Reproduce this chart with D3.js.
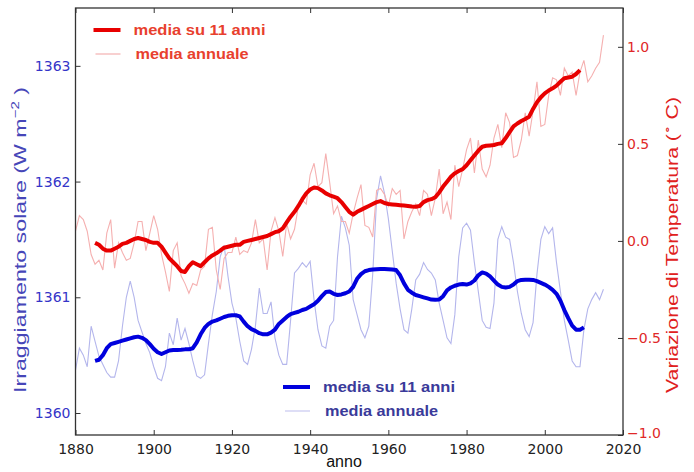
<!DOCTYPE html>
<html><head><meta charset="utf-8">
<script src="https://cdn.jsdelivr.net/npm/d3@7"></script>
<style>
html,body{margin:0;padding:0;background:#fff;}
svg{display:block;}
</style></head>
<body>
<svg id="c" width="694" height="472"></svg>
<script>
// ---- data ----
const tempYearStart = 1880;
const tempAnnual = [
0.05,0.13,0.11,0.05,-0.07,-0.12,-0.10,-0.15,0.04,0.11,
-0.14,-0.01,-0.06,-0.10,-0.09,-0.01,0.10,0.10,-0.05,0.04,
0.13,0.06,-0.07,-0.16,-0.26,-0.05,-0.01,-0.18,-0.22,-0.27,
-0.22,-0.23,-0.15,-0.13,0.06,0.07,-0.15,-0.25,-0.09,-0.06,
-0.06,0.02,-0.07,-0.05,-0.06,-0.01,0.11,-0.01,0.01,-0.15,
0.05,0.12,0.05,-0.08,0.09,0.01,0.06,0.18,0.21,0.19,
0.34,0.40,0.28,0.30,0.45,0.30,0.14,0.18,0.10,0.10,
0.04,0.14,0.22,0.29,0.08,0.07,0.02,0.26,0.27,0.24,
0.18,0.27,0.24,0.26,0.01,0.10,0.15,0.19,0.13,0.26,
0.24,0.13,0.22,0.37,0.14,0.20,0.11,0.39,0.28,0.37,
0.47,0.53,0.35,0.52,0.37,0.33,0.39,0.53,0.60,0.48,
0.66,0.61,0.43,0.44,0.52,0.66,0.54,0.67,0.82,0.59,
0.60,0.75,0.84,0.83,0.75,0.89,0.85,0.87,0.75,0.87,
0.93,0.82,0.85,0.89,0.92,1.06];

const meanYearStart = 1885;
const temp11 = [
-0.01,-0.02,-0.04,-0.05,-0.05,-0.04,-0.03,-0.015,-0.01,0.00,
0.01,0.015,0.01,0.005,-0.005,-0.01,-0.01,-0.03,-0.06,-0.09,
-0.11,-0.13,-0.155,-0.16,-0.13,-0.11,-0.12,-0.13,-0.11,-0.09,
-0.075,-0.064,-0.05,-0.035,-0.03,-0.025,-0.02,-0.02,-0.005,0.00,
0.005,0.01,0.015,0.02,0.025,0.035,0.045,0.05,0.065,0.095,
0.125,0.15,0.18,0.215,0.245,0.265,0.275,0.272,0.26,0.245,
0.235,0.228,0.22,0.20,0.175,0.15,0.135,0.15,0.16,0.17,
0.18,0.19,0.20,0.205,0.195,0.19,0.188,0.186,0.184,0.182,
0.18,0.177,0.176,0.18,0.20,0.21,0.215,0.225,0.25,0.28,
0.305,0.33,0.348,0.36,0.37,0.39,0.415,0.44,0.465,0.485,
0.49,0.492,0.494,0.50,0.503,0.53,0.56,0.59,0.605,0.618,
0.628,0.64,0.68,0.715,0.74,0.76,0.775,0.786,0.80,0.82,
0.838,0.842,0.846,0.86,0.88];

const tsiYearStart = 1880;
const tsiAnnual = [
1360.37,1360.56,1360.50,1360.40,1360.75,1360.62,1360.49,1360.42,1360.35,1360.31,
1360.31,1360.45,1360.75,1361.00,1361.14,1361.00,1360.80,1360.70,1360.60,1360.52,
1360.40,1360.30,1360.28,1360.40,1360.69,1360.59,1360.82,1360.63,1360.73,1360.60,
1360.45,1360.32,1360.30,1360.33,1360.60,1360.85,1361.05,1361.35,1361.45,1361.18,
1360.95,1360.82,1360.62,1360.45,1360.42,1360.55,1360.75,1361.08,1360.86,1360.86,
1360.96,1360.65,1360.50,1360.42,1360.42,1360.80,1361.21,1361.25,1361.30,1361.26,
1361.31,1360.98,1360.72,1360.58,1360.56,1360.75,1360.80,1361.35,1361.70,1361.60,
1361.45,1360.98,1360.85,1360.72,1360.65,1360.75,1361.20,1361.85,1362.05,1361.90,
1361.68,1361.40,1361.12,1360.90,1360.72,1360.69,1360.90,1361.15,1361.20,1361.30,
1361.24,1361.21,1361.15,1360.95,1360.80,1360.65,1360.60,1360.85,1361.35,1361.60,
1361.64,1361.58,1361.30,1361.05,1360.80,1360.74,1360.73,1360.95,1361.50,1361.61,
1361.52,1361.50,1361.30,1361.05,1360.86,1360.72,1360.66,1360.78,1361.20,1361.50,
1361.61,1361.55,1361.60,1361.30,1361.05,1360.80,1360.63,1360.45,1360.40,1360.40,
1360.72,1360.90,1360.98,1361.04,1360.98,1361.07];

const tsi11 = [
1360.45,1360.46,1360.50,1360.56,1360.595,1360.605,1360.615,1360.625,1360.635,1360.645,
1360.655,1360.66,1360.65,1360.63,1360.595,1360.555,1360.525,1360.51,1360.525,1360.54,
1360.545,1360.545,1360.547,1360.55,1360.55,1360.56,1360.61,1360.68,1360.735,1360.77,
1360.79,1360.80,1360.815,1360.83,1360.84,1360.845,1360.845,1360.835,1360.79,1360.75,
1360.725,1360.71,1360.69,1360.68,1360.68,1360.695,1360.72,1360.77,1360.80,1360.83,
1360.855,1360.865,1360.875,1360.89,1360.90,1360.92,1360.94,1360.97,1361.01,1361.045,
1361.05,1361.03,1361.02,1361.025,1361.035,1361.05,1361.09,1361.16,1361.20,1361.225,
1361.235,1361.24,1361.243,1361.245,1361.245,1361.243,1361.24,1361.235,1361.19,1361.12,
1361.065,1361.04,1361.02,1361.01,1361.00,1360.99,1360.98,1360.978,1360.98,1361.01,
1361.06,1361.085,1361.10,1361.11,1361.115,1361.11,1361.12,1361.145,1361.19,1361.215,
1361.205,1361.18,1361.145,1361.11,1361.09,1361.085,1361.09,1361.11,1361.14,1361.15,
1361.152,1361.152,1361.15,1361.14,1361.125,1361.11,1361.09,1361.065,1361.03,1360.97,
1360.89,1360.82,1360.755,1360.72,1360.72,1360.74];

const xTicks = [1880,1900,1920,1940,1960,1980,2000,2020];
const leftTicks = [1360,1361,1362,1363];
const rightTicks = [-1.0,-0.5,0.0,0.5,1.0];
const legendLabels = ["media su 11 anni","media annuale"];

// ---- layout ----
const L = 75.5, R = 623, T = 8, B = 435;
const svg = d3.select("#c");
const x = d3.scaleLinear().domain([1880,2020]).range([L,R]);
const yL = d3.scaleLinear().domain([1359.81,1363.5]).range([B,T]);
const yR = d3.scaleLinear().domain([-1,1.2]).range([B,T]);

const pts = (arr, start) => arr.map((v,i)=>[start+i, v]);
const lineL = d3.line().x(d=>x(d[0])).y(d=>yL(d[1]));
const lineR = d3.line().x(d=>x(d[0])).y(d=>yR(d[1]));

const g = svg.append("g");
g.append("path").attr("d", lineL(pts(tsiAnnual,tsiYearStart)))
 .attr("fill","none").attr("stroke","#b4b6ec").attr("stroke-width",1.1);
g.append("path").attr("d", lineR(pts(tempAnnual,tempYearStart)))
 .attr("fill","none").attr("stroke","#f5b0b0").attr("stroke-width",1.1);
g.append("path").attr("d", lineL(pts(tsi11,meanYearStart)))
 .attr("fill","none").attr("stroke","#0000dd").attr("stroke-width",4).attr("stroke-linejoin","round");
g.append("path").attr("d", lineR(pts(temp11,meanYearStart)))
 .attr("fill","none").attr("stroke","#e80000").attr("stroke-width",4).attr("stroke-linejoin","round");

// frame
svg.append("rect").attr("x",L).attr("y",T).attr("width",R-L).attr("height",B-T)
 .attr("fill","none").attr("stroke","#333").attr("stroke-width",1.3);

const tickFont = "'DejaVu Sans', sans-serif";
// axes
const ax = svg.append("g").attr("transform",`translate(0,${B})`)
 .call(d3.axisBottom(x).tickValues(xTicks).tickFormat(d3.format("d")).tickSize(-5).tickPadding(9));
ax.select(".domain").remove();
ax.selectAll("text").attr("fill","#222").style("font-family",tickFont).style("font-size","14px");
ax.selectAll("line").attr("stroke","#333");

const axT = svg.append("g").attr("transform",`translate(0,${T})`)
 .call(d3.axisTop(x).tickValues(xTicks).tickFormat("").tickSize(-5));
axT.select(".domain").remove();
axT.selectAll("line").attr("stroke","#333");

const ayL = svg.append("g").attr("transform",`translate(${L},0)`)
 .call(d3.axisLeft(yL).tickValues(leftTicks).tickFormat(d3.format("d")).tickSize(-5).tickPadding(5));
ayL.select(".domain").remove();
ayL.selectAll("text").attr("fill","#3535c8").style("font-family",tickFont).style("font-size","14px");
ayL.selectAll("line").attr("stroke","#333");

const ayR = svg.append("g").attr("transform",`translate(${R},0)`)
 .call(d3.axisRight(yR).tickValues(rightTicks).tickFormat(d3.format(".1f")).tickSize(-5).tickPadding(4));
ayR.select(".domain").remove();
ayR.selectAll("text").attr("fill","#e02828").style("font-family",tickFont).style("font-size","14px");
ayR.selectAll("line").attr("stroke","#333");
// lift the bottom-most right label slightly so it clears the 2020 label
ayR.selectAll(".tick").filter(d=>d===-1).select("text").attr("dy","0.2em");

const labFont = "'Liberation Sans', Arial, sans-serif";
// axis labels
svg.append("text").attr("x",344).attr("y",467).attr("text-anchor","middle")
 .attr("fill","#111").style("font-family",labFont).style("font-size","16px").text("anno");

const lt = svg.append("text").attr("transform","translate(26,240) rotate(-90)").attr("text-anchor","middle")
 .attr("fill","#4646b8").style("font-family",labFont).style("font-size","17px")
 .attr("textLength",306).attr("lengthAdjust","spacingAndGlyphs");
lt.append("tspan").text("Irraggiamento solare  (W m");
lt.append("tspan").attr("dy",-7).style("font-size","11px").text("−2");
lt.append("tspan").attr("dy",7).text(" )");

const rt = svg.append("text").attr("transform","translate(678,245) rotate(-90)").attr("text-anchor","middle")
 .attr("fill","#e02020").style("font-family",labFont).style("font-size","17px")
 .attr("textLength",296).attr("lengthAdjust","spacingAndGlyphs");
rt.append("tspan").text("Variazione di Temperatura (");
rt.append("tspan").attr("dy",-7).style("font-size","11px").text("∘");
rt.append("tspan").attr("dy",7).text(" C)");

// legends
const legFont = "'Liberation Sans', Arial, sans-serif";
function legend(x0, y0, thickCol, thinCol, textCol){
  svg.append("line").attr("x1",x0).attr("x2",x0+27).attr("y1",y0).attr("y2",y0)
    .attr("stroke",thickCol).attr("stroke-width",4);
  svg.append("line").attr("x1",x0+2).attr("x2",x0+27).attr("y1",y0+24).attr("y2",y0+24)
    .attr("stroke",thinCol).attr("stroke-width",1.2);
  svg.append("text").attr("x",x0+40).attr("y",y0+5).attr("fill",textCol)
    .style("font-family",legFont).style("font-weight","bold").style("font-size","15px")
    .attr("textLength",132).attr("lengthAdjust","spacingAndGlyphs").text(legendLabels[0]);
  svg.append("text").attr("x",x0+42).attr("y",y0+29).attr("fill",textCol)
    .style("font-family",legFont).style("font-weight","bold").style("font-size","15px")
    .attr("textLength",113).attr("lengthAdjust","spacingAndGlyphs").text(legendLabels[1]);
}
legend(93.5, 30, "#e80000", "#f4b0b0", "#e8402e");
legend(283, 387, "#0000dd", "#c8c8f0", "#3a3a9a");
</script>
</body></html>
